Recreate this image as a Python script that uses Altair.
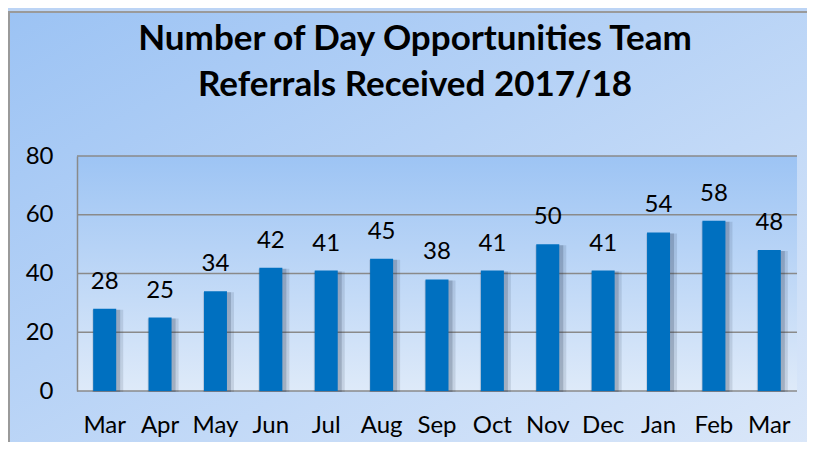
import altair as alt
import pandas as pd

months = ["Mar", "Apr", "May", "Jun", "Jul", "Aug", "Sep", "Oct", "Nov", "Dec", "Jan", "Feb", "Mar "]
referrals = [28, 25, 34, 42, 41, 45, 38, 41, 50, 41, 54, 58, 48]
y_ticks = [0, 20, 40, 60, 80]
title_lines = ["Number of Day Opportunities Team", "Referrals Received 2017/18"]

df = pd.DataFrame({"month": months, "value": referrals})
grid_df = pd.DataFrame({"value": y_ticks})
title_df = pd.DataFrame({"line": title_lines, "idx": [0, 1]})

W, H = 720, 235
PADL, PADT, PADR, PADB = 69, 148, 10, 51
FONT = "Lato"

x_enc = alt.X("month:N", sort=months, title=None,
              scale=alt.Scale(paddingInner=0.58, paddingOuter=0.29),
              axis=alt.Axis(labelFontSize=24, labelFont=FONT, labelColor="#000000",
                            labelPadding=22, ticks=False, domain=False, labelAngle=0,
                            grid=False, zindex=1,
                            labelExpr="trim(datum.label)"))
y_scale = alt.Scale(domain=[0, 80], nice=False)
y_axis = alt.Axis(values=y_ticks, labelFontSize=24, labelFont=FONT,
                  labelColor="#000000", labelPadding=24, ticks=False,
                  domain=True, domainColor="#8a8a8a", domainWidth=1.5,
                  grid=False, zindex=1)
y_enc = alt.Y("value:Q", title=None, scale=y_scale, axis=y_axis)

bg_grad = alt.Gradient(gradient="linear", x1=0, y1=0, x2=1, y2=1,
                       stops=[alt.GradientStop(offset=0, color="#9CC3F4"),
                              alt.GradientStop(offset=1, color="#DCE8F9")])

background = alt.Chart(df).mark_rect(
    fill=bg_grad, stroke="#9a9a9a", strokeWidth=2, clip=False
).encode(
    x=alt.value(-PADL + 1), x2=alt.value(W + PADR + 20),
    y=alt.value(-PADT + 4), y2=alt.value(H + PADB + 20)
).transform_filter(alt.datum.month == "Mar")

plot_grad = alt.Gradient(gradient="linear", x1=0, y1=0, x2=0, y2=1,
                         stops=[alt.GradientStop(offset=0, color="#9DC4F4"),
                                alt.GradientStop(offset=1, color="#DEEAF9")])

plot_bg = alt.Chart(df).mark_rect(fill=plot_grad).encode(
    x=alt.value(0), x2=alt.value(W), y=alt.value(0), y2=alt.value(H)
).transform_filter(alt.datum.month == "Mar")

grid = alt.Chart(grid_df).mark_rule(color="#8a8a8a", strokeWidth=1.5).encode(
    y=y_enc, x=alt.value(0), x2=alt.value(W))

shadow1 = alt.Chart(df).mark_bar(color="#1a2a40", opacity=0.12, size=31, xOffset=3, yOffset=1).encode(
    x=x_enc, y=y_enc)
shadow2 = alt.Chart(df).mark_bar(color="#1a2a40", opacity=0.2, size=27, xOffset=2, yOffset=1).encode(
    x=x_enc, y=y_enc)

bars = alt.Chart(df).mark_bar(color="#0070C0", size=23).encode(x=x_enc, y=y_enc)

labels = alt.Chart(df).mark_text(
    fontSize=24, font=FONT, color="#000000", dy=-20, baseline="alphabetic"
).encode(x=x_enc, y=y_enc, text=alt.Text("value:Q"))

def title_line(i, ypix):
    return alt.Chart(title_df).mark_text(
        fontSize=35, font=FONT, fontWeight="bold", color="#000000",
        baseline="alphabetic", align="center", clip=False
    ).encode(x=alt.value(338), y=alt.value(ypix), text="line:N"
    ).transform_filter(alt.datum.idx == i)

chart = alt.layer(background, plot_bg, grid, shadow1, shadow2, bars, labels,
                  title_line(0, -106), title_line(1, -60)).properties(
    width=W, height=H,
    padding={"left": PADL, "top": PADT, "right": PADR, "bottom": PADB},
    autosize=alt.AutoSizeParams(type="none"),
    background="#BCD4F5",
).configure_view(stroke=None)

chart.save("out.html", embed_options={"renderer": "svg", "actions": False})
